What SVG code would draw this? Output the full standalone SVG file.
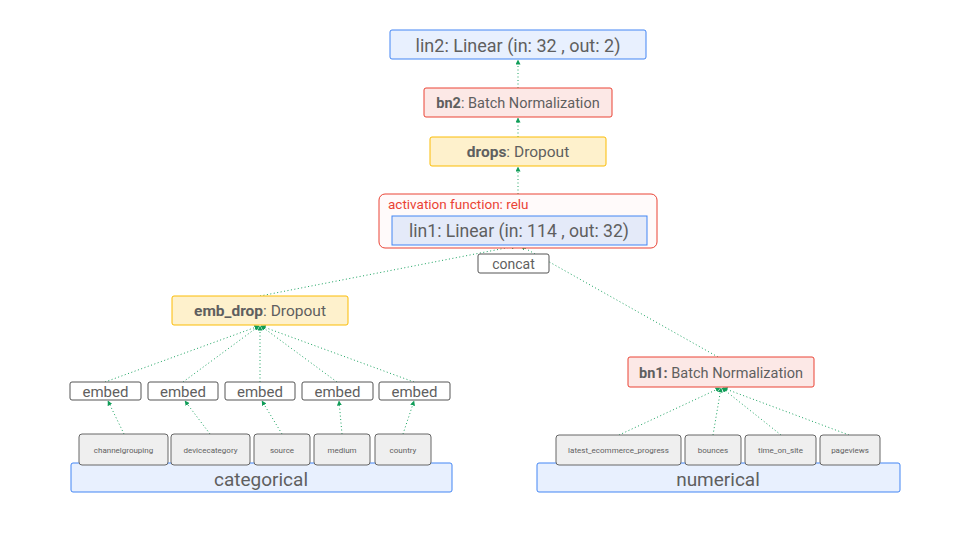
<svg xmlns="http://www.w3.org/2000/svg" width="960" height="540" viewBox="0 0 960 540">
<style>
text{font-family:Roboto,"Liberation Sans",sans-serif;fill:#5f5f5f;text-anchor:middle;dominant-baseline:central}
.blue{fill:#e8f0fe;stroke:#4285f4;stroke-width:1}
.red{fill:#fce8e6;stroke:#ea4335;stroke-width:1}
.yel{fill:#fef1cc;stroke:#fbbc04;stroke-width:1}
.emb{fill:#ffffff;stroke:#555555;stroke-width:1}
.inp{fill:#efefef;stroke:#666666;stroke-width:1}
.c{stroke:#1aa260;stroke-width:1;stroke-dasharray:1 2.5;fill:none;marker-end:url(#ah)}
.et{font-size:15px}
.it{font-size:8px}
</style>
<defs>
<marker id="ah" viewBox="0 0 10 10" refX="9" refY="5" markerWidth="5" markerHeight="5" orient="auto">
<path d="M0,0 L10,5 L0,10 z" fill="#0f9d58"/>
</marker>
</defs>
<rect width="960" height="540" fill="#ffffff"/>
<g id="connectors">
<line class="c" x1="518" y1="88" x2="518" y2="60"/>
<line class="c" x1="518" y1="137" x2="518" y2="118"/>
<line class="c" x1="518" y1="194" x2="518" y2="167"/>
<line class="c" x1="260" y1="296" x2="516" y2="246"/>
<line class="c" x1="718" y1="357" x2="521" y2="246"/>
<line class="c" x1="105" y1="382" x2="259" y2="326"/>
<line class="c" x1="183" y1="382" x2="259" y2="326"/>
<line class="c" x1="260" y1="382" x2="260" y2="326"/>
<line class="c" x1="337" y1="382" x2="261" y2="326"/>
<line class="c" x1="414" y1="382" x2="261" y2="326"/>
<line class="c" x1="124" y1="434" x2="108" y2="401"/>
<line class="c" x1="210" y1="434" x2="185" y2="401"/>
<line class="c" x1="282" y1="434" x2="262" y2="401"/>
<line class="c" x1="342" y1="434" x2="339" y2="401"/>
<line class="c" x1="403" y1="434" x2="414" y2="401"/>
<line class="c" x1="619" y1="435" x2="720" y2="388"/>
<line class="c" x1="713" y1="435" x2="721" y2="388"/>
<line class="c" x1="781" y1="435" x2="722" y2="388"/>
<line class="c" x1="849" y1="435" x2="723" y2="388"/>
</g>
<g id="lin2">
<rect class="blue" x="390" y="30" width="256" height="29" rx="2"/>
<text x="518" y="45" font-size="18">lin2: Linear (in: 32 , out: 2)</text>
</g>
<g id="bn2">
<rect class="red" x="424" y="88" width="188" height="29" rx="2"/>
<text x="518" y="103" font-size="14.5"><tspan font-weight="bold">bn2</tspan>: Batch Normalization</text>
</g>
<g id="drops">
<rect class="yel" x="430" y="137" width="176" height="29" rx="2"/>
<text x="518" y="152" font-size="15.5"><tspan font-weight="bold">drops</tspan>: Dropout</text>
</g>
<g id="activation">
<rect x="379" y="194" width="278" height="54" rx="6" fill="#fffafa" stroke="#ea4335" stroke-width="1"/>
<text x="388" y="204" font-size="13.5" style="text-anchor:start;fill:#ea4335">activation function: relu</text>
</g>
<g id="lin1">
<rect x="392" y="216" width="255" height="29" fill="#e4eaf9" stroke="#4285f4" stroke-width="1"/>
<text x="519" y="231" font-size="17.6">lin1: Linear (in: 114 , out: 32)</text>
</g>
<g id="concat">
<rect class="emb" x="478" y="254" width="71" height="19" rx="2"/>
<text x="513.5" y="264" font-size="14">concat</text>
</g>
<g id="emb_drop">
<rect class="yel" x="172" y="296" width="176" height="29" rx="2"/>
<text x="260" y="311" font-size="15.5"><tspan font-weight="bold">emb_drop</tspan>: Dropout</text>
</g>
<g id="embed1"><rect class="emb" x="70" y="382" width="71" height="18" rx="2"/><text class="et" x="105.5" y="391.5">embed</text></g>
<g id="embed2"><rect class="emb" x="148" y="382" width="70" height="18" rx="2"/><text class="et" x="183" y="391.5">embed</text></g>
<g id="embed3"><rect class="emb" x="225" y="382" width="70" height="18" rx="2"/><text class="et" x="260" y="391.5">embed</text></g>
<g id="embed4"><rect class="emb" x="302" y="382" width="71" height="18" rx="2"/><text class="et" x="337.5" y="391.5">embed</text></g>
<g id="embed5"><rect class="emb" x="379" y="382" width="71" height="18" rx="2"/><text class="et" x="414.5" y="391.5">embed</text></g>
<g id="categorical">
<rect class="blue" x="71" y="463" width="381" height="29" rx="2"/>
<text x="261" y="479" font-size="19">categorical</text>
</g>
<g id="channelgrouping"><rect class="inp" x="79" y="434" width="89" height="31" rx="3"/><text class="it" x="123.5" y="450">channelgrouping</text></g>
<g id="devicecategory"><rect class="inp" x="171" y="434" width="79" height="31" rx="3"/><text class="it" x="210.5" y="450">devicecategory</text></g>
<g id="source"><rect class="inp" x="254" y="434" width="56" height="31" rx="3"/><text class="it" x="282" y="450">source</text></g>
<g id="medium"><rect class="inp" x="314" y="434" width="56" height="31" rx="3"/><text class="it" x="342" y="450">medium</text></g>
<g id="country"><rect class="inp" x="375" y="434" width="56" height="31" rx="3"/><text class="it" x="403" y="450">country</text></g>
<g id="bn1">
<rect class="red" x="628" y="357" width="186" height="30" rx="2"/>
<text x="721" y="373" font-size="14.5"><tspan font-weight="bold">bn1:</tspan> Batch Normalization</text>
</g>
<g id="numerical">
<rect class="blue" x="537" y="463" width="363" height="29" rx="2"/>
<text x="718" y="479" font-size="19">numerical</text>
</g>
<g id="latest_ecommerce_progress"><rect class="inp" x="556" y="435" width="125" height="30" rx="3"/><text class="it" x="618.5" y="450.5">latest_ecommerce_progress</text></g>
<g id="bounces"><rect class="inp" x="685" y="435" width="56" height="30" rx="3"/><text class="it" x="713" y="450.5">bounces</text></g>
<g id="time_on_site"><rect class="inp" x="745" y="435" width="71" height="30" rx="3"/><text class="it" x="780.5" y="450.5">time_on_site</text></g>
<g id="pageviews"><rect class="inp" x="820" y="435" width="60" height="30" rx="3"/><text class="it" x="850" y="450.5">pageviews</text></g>
</svg>
